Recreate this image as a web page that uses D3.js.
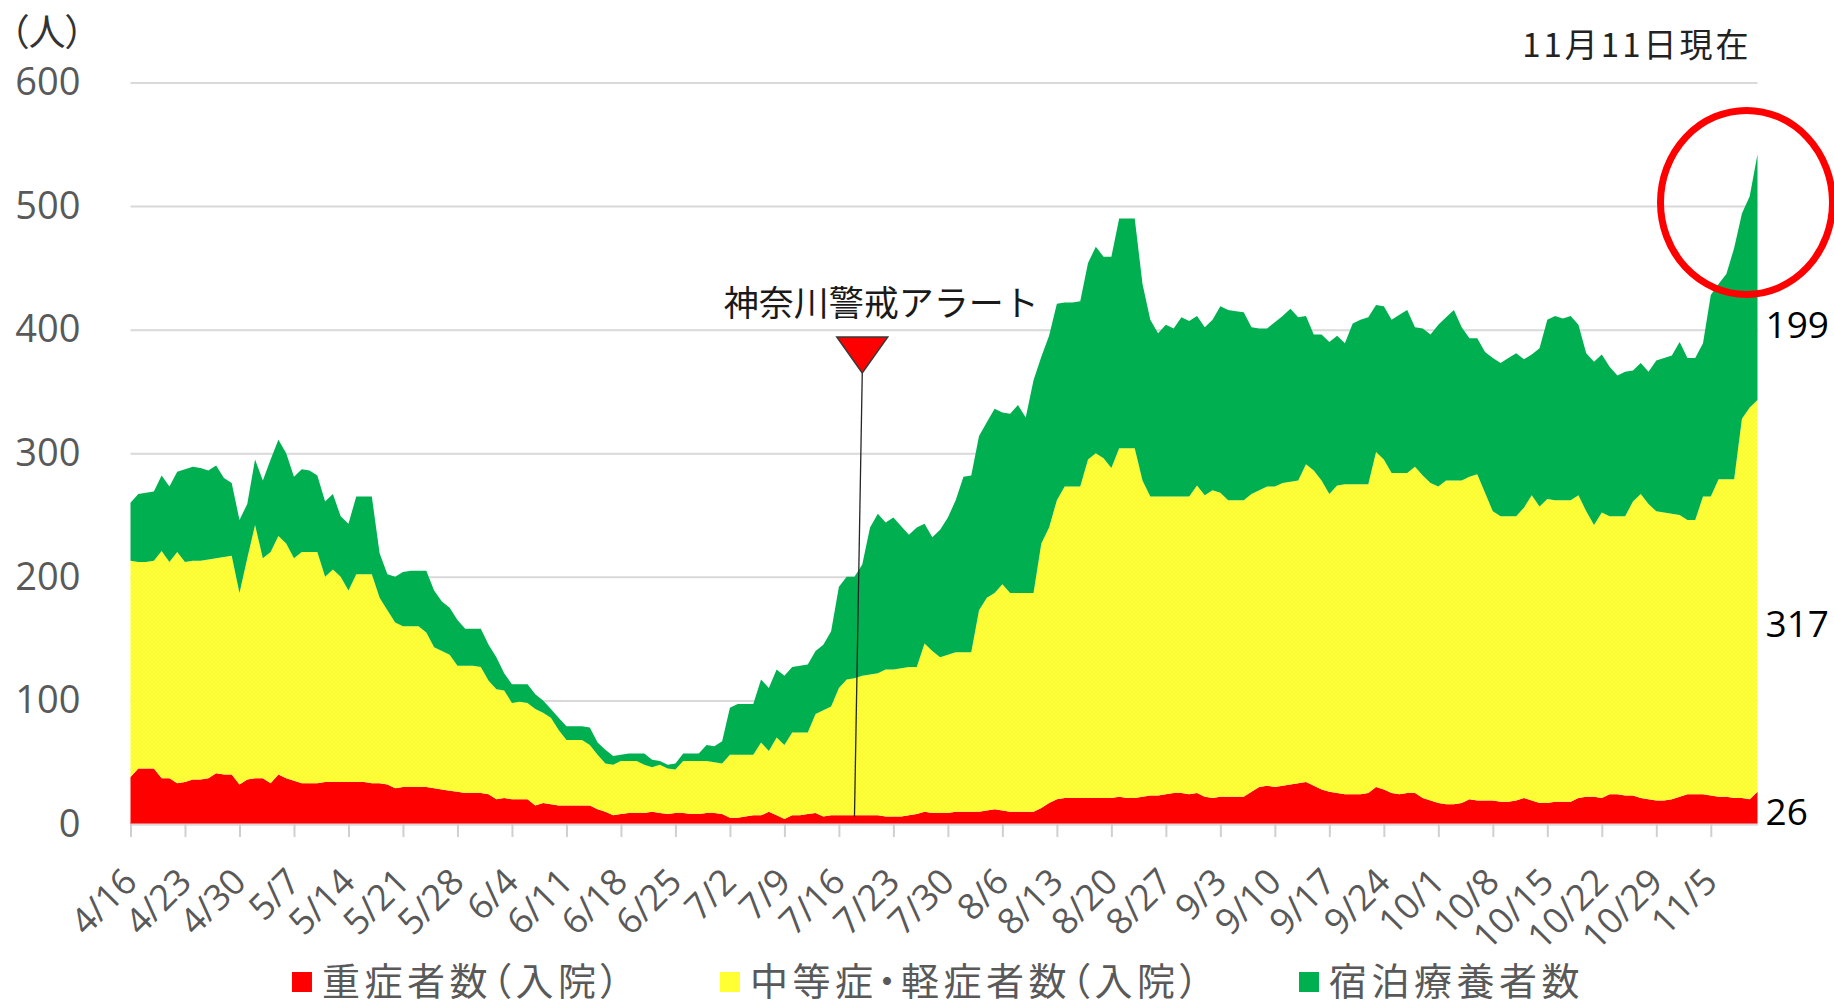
<!DOCTYPE html>
<html>
<head>
<meta charset="utf-8">
<script src="https://cdn.jsdelivr.net/npm/d3@7"></script>
<style>
  body { margin: 0; background: #fff; }
  svg { display: block; }
</style>
</head>
<body>
<div id="chart"></div>
<script>
// daily counts, 4/16 .. 11/11 (210 days)
const START_DATE = "2020-04-16";

const severe = [
  38,45,45,45,37,37,33,34,36,36,37,41,40,40,32,36,37,37,33,40,
  37,35,33,33,33,34,34,34,34,34,34,33,33,32,29,30,30,30,30,29,
  28,27,26,25,25,25,24,20,21,20,20,20,15,17,16,15,15,15,15,15,
  12,10,7,8,9,9,9,10,9,8,9,9,8,8,9,9,8,5,5,6,
  7,7,10,7,4,7,7,8,9,6,7,7,7,7,7,7,7,6,6,6,
  7,8,10,9,9,9,10,10,10,10,11,12,11,10,10,10,10,13,17,20,
  21,21,21,21,21,21,21,22,21,21,22,23,23,24,25,25,24,25,22,21,
  22,22,22,22,26,30,31,30,31,32,33,34,31,28,26,25,24,24,24,25,
  30,28,25,24,25,25,21,19,17,16,16,17,20,19,19,19,18,18,19,21,
  19,17,17,18,18,18,21,22,22,21,24,24,23,23,21,20,19,19,20,22,
  24,24,24,23,22,22,21,21,20,26
];

const moderate = [
  175,167,167,168,184,175,187,178,177,177,177,174,176,177,155,179,205,178,187,193,
  190,180,187,187,187,166,172,166,155,168,168,169,150,141,134,130,130,130,125,114,
  112,110,102,103,103,102,92,89,87,78,79,78,78,73,70,61,53,53,53,49,
  44,39,41,43,42,42,39,36,39,37,35,42,43,43,42,41,41,51,51,50,
  49,59,49,63,60,67,67,66,80,86,88,103,110,111,113,114,115,119,119,120,
  120,119,136,131,126,128,129,129,129,163,172,175,183,177,177,177,177,214,223,242,
  252,252,252,274,279,275,267,282,283,283,256,242,242,241,240,240,241,249,244,249,
  246,240,240,240,241,240,242,243,245,245,245,257,255,250,241,249,251,251,251,250,
  271,267,259,260,259,264,261,257,256,262,262,261,261,264,249,234,231,231,230,235,
  247,240,246,244,244,244,245,231,220,231,225,225,226,238,246,239,234,233,231,228,
  222,222,241,242,257,257,258,307,317,317
];

const hotel = [
  47,55,56,56,61,61,65,75,76,75,72,75,64,59,59,44,53,63,75,78,
  73,66,67,66,62,61,61,49,54,63,63,63,36,29,37,44,45,45,50,46,
  40,38,37,30,30,31,29,26,14,15,14,15,12,10,7,10,11,11,11,14,
  10,11,7,5,6,6,9,6,3,3,5,6,6,6,13,13,18,38,41,41,
  41,51,51,55,56,53,54,55,51,53,61,82,83,82,90,119,129,119,123,115,
  107,113,97,92,103,111,123,142,143,141,142,149,139,145,152,142,172,151,155,159,
  149,149,150,159,167,163,171,186,186,186,159,143,132,139,136,145,142,137,136,138,
  151,154,153,152,135,131,128,133,135,140,132,120,110,118,123,121,114,130,133,135,
  119,124,124,128,132,113,119,120,131,132,138,124,112,110,114,124,124,128,132,120,
  114,128,145,149,147,149,138,128,132,128,121,114,117,106,106,107,122,125,128,140,
  131,131,124,163,158,166,187,166,171,199
];

const seriesKeys = ["severe", "moderate", "hotel"];
const seriesNames = ["重症者数（入院）", "中等症・軽症者数（入院）", "宿泊療養者数"];
const seriesColors = ["#ff0000", "url(#yellowDots)", "#00b050"];
const legendColors = ["#ff0000", "#ffff33", "#00b050"];
const yTicks = [0, 100, 200, 300, 400, 500, 600];
const alertDate = "2020-07-18";
const alertTopDate = "2020-07-19";
const alertText = "神奈川警戒アラート";
const asOfText = "11月11日現在";
const unitText = "（人）";

const W = 1834, H = 1006;
const MARGIN = { LEFT: 130.5, RIGHT: 76.5, TOP: 82.5, BOTTOM: 182 };
const WIDTH = W - MARGIN.LEFT - MARGIN.RIGHT;
const HEIGHT = H - MARGIN.TOP - MARGIN.BOTTOM;
const JP = "'Noto Sans CJK JP', sans-serif";
const NUM = "'Open Sans', 'Noto Sans', sans-serif";

const parseDay = d3.timeParse("%Y-%m-%d");
const dates = d3.timeDay.range(parseDay(START_DATE), d3.timeDay.offset(parseDay(START_DATE), severe.length));
const rows = dates.map((d, i) => ({ date: d, severe: severe[i], moderate: moderate[i], hotel: hotel[i] }));

const svg = d3.select("#chart").append("svg")
  .attr("width", W)
  .attr("height", H);

// dotted yellow fill like the original
const defs = svg.append("defs");
const pat = defs.append("pattern")
  .attr("id", "yellowDots")
  .attr("patternUnits", "userSpaceOnUse")
  .attr("width", 4).attr("height", 4);
pat.append("rect").attr("width", 4).attr("height", 4).attr("fill", "#ffff38");
pat.append("rect").attr("x", 1).attr("y", 1).attr("width", 1).attr("height", 1).attr("fill", "#ecea2a");
pat.append("rect").attr("x", 3).attr("y", 3).attr("width", 1).attr("height", 1).attr("fill", "#ecea2a");

const g = svg.append("g").attr("transform", `translate(${MARGIN.LEFT}, ${MARGIN.TOP})`);

const x = d3.scaleTime()
  .domain(d3.extent(dates))
  .range([0, WIDTH]);

const y = d3.scaleLinear()
  .domain([0, 600])
  .range([HEIGHT, 0]);

// gridlines + y labels
const yAxis = d3.axisLeft(y)
  .tickValues(yTicks)
  .tickSizeInner(-WIDTH)
  .tickSizeOuter(0)
  .tickPadding(50);

g.append("g")
  .call(yAxis)
  .call(s => s.select(".domain").remove())
  .call(s => s.selectAll(".tick line").attr("stroke", "#d9d9d9").attr("stroke-width", 2))
  .call(s => s.selectAll(".tick text")
    .attr("fill", "#595959")
    .style("font-family", NUM)
    .style("font-size", "38px"));

// stacked areas
const stacked = d3.stack().keys(seriesKeys)(rows);

const area = d3.area()
  .x(d => x(d.data.date))
  .y0(d => y(d[0]))
  .y1(d => y(d[1]));

g.selectAll("path.layer")
  .data(stacked)
  .enter().append("path")
  .attr("class", "layer")
  .attr("fill", (d, i) => seriesColors[i])
  .attr("d", area);

// x axis, weekly ticks
const weekTicks = d3.timeDay.range(parseDay(START_DATE), d3.timeDay.offset(d3.max(dates), 1), 7);

const xAxis = d3.axisBottom(x)
  .tickValues(weekTicks)
  .tickFormat(d3.timeFormat("%-m/%-d"))
  .tickSizeInner(13)
  .tickSizeOuter(0);

const xg = g.append("g")
  .attr("transform", `translate(0, ${HEIGHT})`)
  .call(xAxis);

xg.select(".domain").attr("stroke", "#d9d9d9").attr("stroke-width", 2);
xg.selectAll(".tick line").attr("stroke", "#d0d0d0").attr("stroke-width", 2);
xg.selectAll(".tick text")
  .attr("x", 0).attr("y", 0).attr("dy", 0)
  .attr("text-anchor", "end")
  .attr("transform", "translate(8, 60) rotate(-45)")
  .attr("fill", "#595959")
  .style("font-family", NUM)
  .style("font-size", "36px");

// alert marker
const ax = x(parseDay(alertTopDate));
const axBottom = x(parseDay(alertDate));
const apexY = y(365);

g.append("line")
  .attr("x1", ax).attr("y1", apexY)
  .attr("x2", axBottom).attr("y2", y(6))
  .attr("stroke", "#262626")
  .attr("stroke-width", 1.3);

g.append("path")
  .attr("d", `M${ax - 25.5},${apexY - 36} L${ax + 25.5},${apexY - 36} L${ax},${apexY} Z`)
  .attr("fill", "#ff0000")
  .attr("stroke", "#3a3a3a")
  .attr("stroke-width", 1.5);

g.append("text")
  .attr("x", ax + 19)
  .attr("y", apexY - 72)
  .attr("text-anchor", "middle")
  .attr("dominant-baseline", "central")
  .attr("fill", "#1a1a1a")
  .style("font-family", JP)
  .style("font-size", "35px")
  .text(alertText);

// last-day values at the right edge
const last = rows[rows.length - 1];
const endLabels = [
  { v: last.hotel, at: 405 },
  { v: last.moderate, at: 163 },
  { v: last.severe, at: 11 }
];
g.selectAll("text.endval")
  .data(endLabels)
  .enter().append("text")
  .attr("class", "endval")
  .attr("x", WIDTH + 8)
  .attr("y", d => y(d.at))
  .attr("dominant-baseline", "central")
  .attr("fill", "#000")
  .style("font-family", NUM)
  .style("font-size", "37px")
  .text(d => d.v);

// red circle around the latest rise
g.append("ellipse")
  .attr("cx", x(last.date) - 11)
  .attr("cy", y(503))
  .attr("rx", 86)
  .attr("ry", 92)
  .attr("fill", "none")
  .attr("stroke", "#ff0000")
  .attr("stroke-width", 7);

// unit and date notes
svg.append("text")
  .attr("x", 10)
  .attr("y", 30)
  .attr("dominant-baseline", "central")
  .attr("fill", "#333")
  .style("font-family", JP)
  .style("font-size", "37px")
  .style("font-feature-settings", "'palt'")
  .text(unitText);

svg.append("text")
  .attr("x", MARGIN.LEFT + WIDTH - 6)
  .attr("y", 43)
  .attr("text-anchor", "end")
  .attr("dominant-baseline", "central")
  .attr("fill", "#222")
  .style("font-family", JP)
  .style("font-size", "33px")
  .style("letter-spacing", "3px")
  .text(asOfText);

// legend, centred under the plot
const legend = svg.append("g").attr("class", "legend");
const items = legend.selectAll("g.item")
  .data(seriesNames)
  .enter().append("g")
  .attr("class", "item");

items.append("rect")
  .attr("x", 0).attr("y", -10)
  .attr("width", 20).attr("height", 20)
  .attr("fill", (d, i) => legendColors[i]);

items.append("text")
  .attr("x", 30)
  .attr("y", 13)
  .attr("fill", "#595959")
  .style("font-family", JP)
  .style("font-size", "38px")
  .style("letter-spacing", "4.5px")
  .style("font-feature-settings", "'palt'")
  .text(d => d);

const GAP = 96;
let offset = 0;
items.each(function () {
  const it = d3.select(this);
  it.attr("transform", `translate(${offset}, 982)`);
  offset += 30 + it.select("text").node().getComputedTextLength() + GAP;
});
const legendWidth = offset - GAP;
legend.attr("transform", `translate(${MARGIN.LEFT + WIDTH / 2 - legendWidth / 2 - 6}, 0)`);
</script>
</body>
</html>
